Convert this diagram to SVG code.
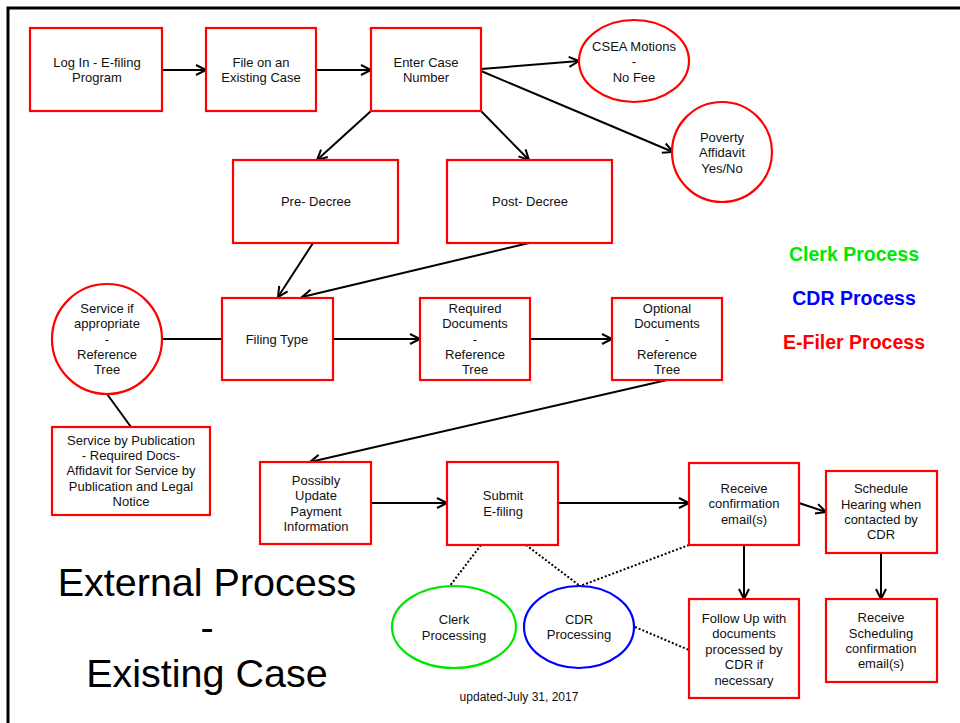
<svg xmlns="http://www.w3.org/2000/svg" width="960" height="723" viewBox="0 0 960 723">
  <defs>
    <marker id="arrow" markerUnits="userSpaceOnUse" markerWidth="14" markerHeight="14" refX="11" refY="6" orient="auto" viewBox="0 0 14 12">
      <path d="M1,1 L11,6 L1,11" fill="none" stroke="#000" stroke-width="2"/>
    </marker>
  </defs>
  <style>
    .box { fill: #fff; stroke: #ff0000; stroke-width: 2.2; }
    .ell { fill: #fff; stroke: #ff0000; stroke-width: 2.2; }
    .clerk { fill: #fff; stroke: #00e600; stroke-width: 2.2; }
    .cdr { fill: #fff; stroke: #0000ff; stroke-width: 2.2; }
    .t { font-family: "Liberation Sans", Arial, sans-serif; font-size: 13px; fill: #111; text-anchor: middle; }
    .edge { stroke: #000; stroke-width: 2; fill: none; }
    .arr { marker-end: url(#arrow); }
    .dot { stroke: #000; stroke-width: 2; stroke-dasharray: 2 2; fill: none; }
    .legend { font-family: "Liberation Sans", Arial, sans-serif; font-size: 19.5px; font-weight: bold; text-anchor: middle; }
    .title { font-family: "Liberation Sans", Arial, sans-serif; font-size: 39.5px; fill: #000; text-anchor: middle; }
  </style>

  <rect width="960" height="723" fill="#fff"/>
  <!-- page frame -->
  <rect x="8" y="8" width="970" height="740" fill="none" stroke="#000" stroke-width="3"/>

  <!-- connectors -->
  <g id="connectors">
    <line class="edge arr" x1="162" y1="70" x2="206" y2="70"/>
    <line class="edge arr" x1="316" y1="70" x2="371" y2="70"/>
    <line class="edge arr" x1="481" y1="69" x2="579" y2="61"/>
    <line class="edge arr" x1="481" y1="71" x2="673" y2="152"/>
    <line class="edge arr" x1="371" y1="111" x2="317" y2="160"/>
    <line class="edge arr" x1="481" y1="111" x2="529" y2="160"/>
    <line class="edge arr" x1="313" y1="243" x2="278" y2="297"/>
    <line class="edge arr" x1="529" y1="243" x2="302" y2="297"/>
    <line class="edge" x1="162" y1="339" x2="222" y2="339"/>
    <line class="edge arr" x1="333" y1="339" x2="420" y2="339"/>
    <line class="edge arr" x1="530" y1="339" x2="612" y2="339"/>
    <line class="edge" x1="107" y1="394" x2="131" y2="427"/>
    <line class="edge arr" x1="667" y1="380" x2="310" y2="462"/>
    <line class="edge arr" x1="371" y1="503" x2="447" y2="503"/>
    <line class="edge arr" x1="558" y1="503" x2="689" y2="503"/>
    <line class="edge arr" x1="799" y1="503" x2="826" y2="512"/>
    <line class="edge arr" x1="744" y1="545" x2="744" y2="599"/>
    <line class="edge arr" x1="881" y1="553" x2="881" y2="599"/>
    <line class="dot" x1="481" y1="545" x2="449" y2="587"/>
    <line class="dot" x1="526" y1="545" x2="580" y2="586"/>
    <line class="dot" x1="689" y1="545" x2="580" y2="586"/>
    <line class="dot" x1="635" y1="627" x2="689" y2="650"/>
  </g>

  <g id="login">
    <rect class="box" x="30" y="28" width="132" height="83"/>
    <text class="t" x="97" y="67">Log In - E-filing</text>
    <text class="t" x="97" y="82">Program</text>
  </g>
  <g id="file-existing">
    <rect class="box" x="206" y="28" width="110" height="83"/>
    <text class="t" x="261" y="67">File on an</text>
    <text class="t" x="261" y="82">Existing Case</text>
  </g>
  <g id="enter-case">
    <rect class="box" x="371" y="28" width="110" height="83"/>
    <text class="t" x="426" y="67">Enter Case</text>
    <text class="t" x="426" y="82">Number</text>
  </g>
  <g id="csea">
    <ellipse class="ell" cx="634" cy="61" rx="55" ry="41"/>
    <text class="t" x="634" y="51">CSEA Motions</text>
    <text class="t" x="634" y="66">-</text>
    <text class="t" x="634" y="82">No Fee</text>
  </g>
  <g id="poverty">
    <circle class="ell" cx="722" cy="152" r="50"/>
    <text class="t" x="722" y="142">Poverty</text>
    <text class="t" x="722" y="157">Affidavit</text>
    <text class="t" x="722" y="173">Yes/No</text>
  </g>
  <g id="pre-decree">
    <rect class="box" x="233" y="160" width="165" height="83"/>
    <text class="t" x="316" y="206">Pre- Decree</text>
  </g>
  <g id="post-decree">
    <rect class="box" x="447" y="160" width="165" height="83"/>
    <text class="t" x="530" y="206">Post- Decree</text>
  </g>
  <g id="service">
    <circle class="ell" cx="107" cy="339" r="55"/>
    <text class="t" x="107" y="313">Service if</text>
    <text class="t" x="107" y="328">appropriate</text>
    <text class="t" x="107" y="344">-</text>
    <text class="t" x="107" y="359">Reference</text>
    <text class="t" x="107" y="374">Tree</text>
  </g>
  <g id="filing-type">
    <rect class="box" x="222" y="298" width="111" height="82"/>
    <text class="t" x="277" y="344">Filing Type</text>
  </g>
  <g id="required-docs">
    <rect class="box" x="420" y="298" width="110" height="82"/>
    <text class="t" x="475" y="313">Required</text>
    <text class="t" x="475" y="328">Documents</text>
    <text class="t" x="475" y="344">-</text>
    <text class="t" x="475" y="359">Reference</text>
    <text class="t" x="475" y="374">Tree</text>
  </g>
  <g id="optional-docs">
    <rect class="box" x="612" y="298" width="110" height="82"/>
    <text class="t" x="667" y="313">Optional</text>
    <text class="t" x="667" y="328">Documents</text>
    <text class="t" x="667" y="344">-</text>
    <text class="t" x="667" y="359">Reference</text>
    <text class="t" x="667" y="374">Tree</text>
  </g>
  <g id="publication">
    <rect class="box" x="52" y="427" width="158" height="88"/>
    <text class="t" x="131" y="445">Service by Publication</text>
    <text class="t" x="131" y="460">- Required Docs-</text>
    <text class="t" x="131" y="475">Affidavit for Service by</text>
    <text class="t" x="131" y="491">Publication and Legal</text>
    <text class="t" x="131" y="506">Notice</text>
  </g>
  <g id="payment">
    <rect class="box" x="260" y="462" width="111" height="82"/>
    <text class="t" x="316" y="485">Possibly</text>
    <text class="t" x="316" y="500">Update</text>
    <text class="t" x="316" y="516">Payment</text>
    <text class="t" x="316" y="531">Information</text>
  </g>
  <g id="submit">
    <rect class="box" x="447" y="462" width="111" height="83"/>
    <text class="t" x="503" y="500">Submit</text>
    <text class="t" x="503" y="516">E-filing</text>
  </g>
  <g id="receive-confirmation">
    <rect class="box" x="689" y="463" width="110" height="82"/>
    <text class="t" x="744" y="493">Receive</text>
    <text class="t" x="744" y="508">confirmation</text>
    <text class="t" x="744" y="524">email(s)</text>
  </g>
  <g id="schedule-hearing">
    <rect class="box" x="826" y="471" width="111" height="82"/>
    <text class="t" x="881" y="493">Schedule</text>
    <text class="t" x="881" y="509">Hearing when</text>
    <text class="t" x="881" y="524">contacted by</text>
    <text class="t" x="881" y="539">CDR</text>
  </g>
  <g id="follow-up">
    <rect class="box" x="689" y="599" width="110" height="99"/>
    <text class="t" x="744" y="623">Follow Up with</text>
    <text class="t" x="744" y="638">documents</text>
    <text class="t" x="744" y="654">processed by</text>
    <text class="t" x="744" y="669">CDR if</text>
    <text class="t" x="744" y="685">necessary</text>
  </g>
  <g id="receive-scheduling">
    <rect class="box" x="826" y="599" width="111" height="83"/>
    <text class="t" x="881" y="622">Receive</text>
    <text class="t" x="881" y="638">Scheduling</text>
    <text class="t" x="881" y="653">confirmation</text>
    <text class="t" x="881" y="668">email(s)</text>
  </g>
  <g id="clerk-processing">
    <ellipse class="clerk" cx="454" cy="627" rx="62" ry="41"/>
    <text class="t" x="454" y="624">Clerk</text>
    <text class="t" x="454" y="640">Processing</text>
  </g>
  <g id="cdr-processing">
    <ellipse class="cdr" cx="579" cy="627" rx="55" ry="41"/>
    <text class="t" x="579" y="624">CDR</text>
    <text class="t" x="579" y="639">Processing</text>
  </g>

  <!-- legend -->
  <g id="legend">
    <text class="legend" x="854" y="261" fill="#00e600">Clerk Process</text>
    <text class="legend" x="854" y="305" fill="#0000ff">CDR Process</text>
    <text class="legend" x="854" y="349" fill="#ff0000">E-Filer Process</text>
  </g>

  <!-- title -->
  <g id="title">
    <text class="title" x="207" y="596">External Process</text>
    <text class="title" x="207" y="641">-</text>
    <text class="title" x="207" y="687">Existing Case</text>
  </g>
  <text class="t" x="519" y="701" style="font-size:12px">updated-July 31, 2017</text>
</svg>
